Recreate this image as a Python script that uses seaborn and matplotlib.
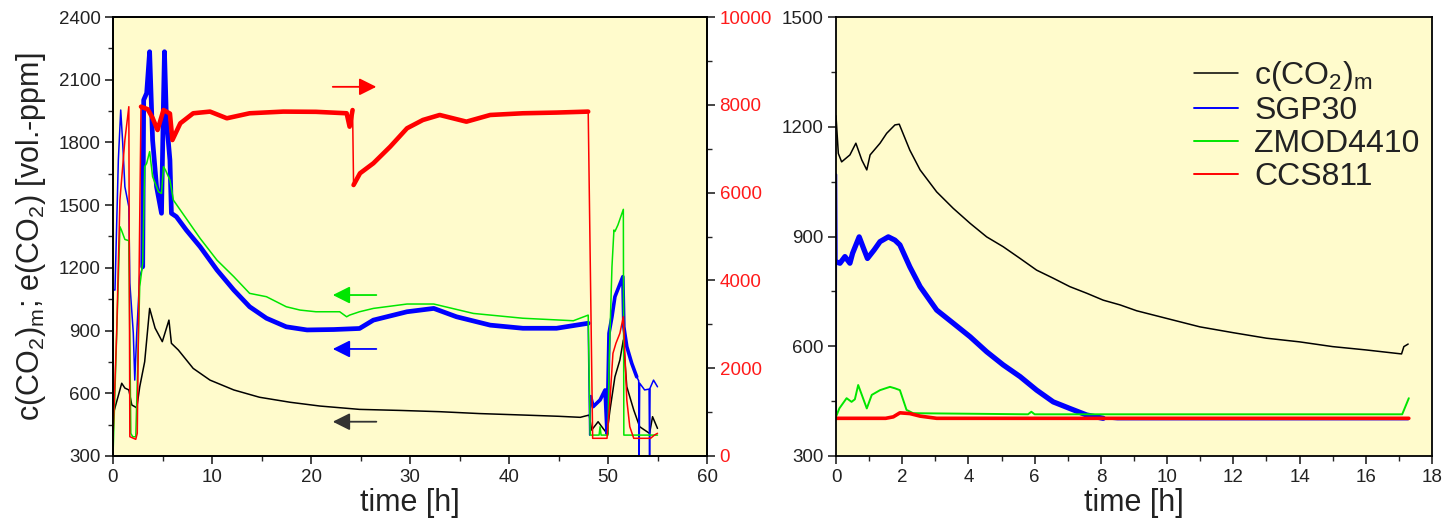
import matplotlib
matplotlib.use("Agg")
import matplotlib.pyplot as plt
import pandas as pd
import seaborn as sns
from matplotlib.ticker import MultipleLocator

# ---- left panel: 55 h run (left axis ppm, CCS811 on right axis) ----
t_meas = [0, 0.05, 0.88, 1.2, 1.6, 1.9, 2.2, 2.4, 2.7, 3.2, 3.7, 4.25, 4.98, 5.65, 5.9,
          6.6, 8.1, 9.8, 12.2, 14.8, 17.9, 20.9, 24.9, 29, 33, 37, 41.4, 45, 47.2, 48.1,
          48.35, 49.0, 49.5, 49.9, 50.2, 50.7, 51.2, 51.55, 51.9, 52.6, 53.2, 54.2, 54.5, 55.0]
co2_meas = [505, 505, 648, 625, 616, 544, 536, 530, 631, 751, 1006, 912, 847, 950, 839,
            807, 719, 663, 616, 581, 557, 539, 523, 518, 512, 503, 496, 490, 485, 496,
            424, 464, 432, 408, 520, 679, 759, 855, 631, 520, 440, 408, 488, 432]

t_sgp = [0, 0.02, 0.2, 0.54, 0.78, 0.98, 1.2, 1.6, 1.7, 2.05, 2.2, 2.4, 2.7, 3.0, 3.1,
         3.4, 3.7, 4.0, 4.4, 4.9, 5.1, 5.2, 5.4, 5.75, 5.9, 6.4, 7.4, 8.8, 10.5, 12.2,
         13.8, 15.5, 17.5, 19.6, 22.3, 24.9, 26.3, 29.7, 32.4, 34.7, 38.1, 41.4, 44.8, 48.0,
         48.15, 48.25, 48.5, 49.2, 49.7, 49.9, 50.1, 50.4, 50.7, 51.1, 51.5, 51.6, 51.9,
         52.4, 52.9, 53.1, 53.15, 53.2, 53.7, 54.15, 54.2, 54.25, 54.6, 55.0]
sgp = [300, 1094, 1094, 1716, 1955, 1797, 1588, 1492, 1127, 888, 663, 888, 1158, 1205, 2003,
       2036, 2234, 1811, 1588, 1461, 2003, 2234, 1907, 1716, 1461, 1445, 1381, 1301, 1190, 1094,
       1014, 959, 918, 903, 905, 910, 950, 990, 1006, 966, 926, 911, 911, 935,
       400, 584, 536, 568, 616, 408, 887, 966, 1062, 1110, 1158, 918, 823,
       743, 679, 660, 300, 648, 616, 620, 300, 625, 663, 631]

t_zmod = [0, 0.7, 0.85, 1.2, 1.6, 1.8, 2.0, 2.3, 2.45, 2.7, 3.0, 3.2, 3.4, 3.7, 4.0,
          4.6, 4.9, 5.1, 5.3, 5.75, 6.1, 8.8, 10.5, 12.2, 13.8, 15.5, 17.5, 18.9, 20.5, 22.9,
          23.6, 23.9, 24.9, 26.3, 29.7, 32.4, 36.4, 41.4, 46.5, 48.0, 48.2, 49.1, 49.2, 49.3,
          50.0, 50.1, 50.4, 50.6, 50.7, 51.0, 51.55, 51.6, 55.0]
zmod = [300, 1397, 1381, 1336, 1330, 408, 392, 392, 648, 1110, 1223, 1684, 1700, 1756, 1636,
        1564, 1556, 1684, 1668, 1620, 1524, 1341, 1237, 1158, 1078, 1062, 1014, 998, 990, 990,
        966, 974, 990, 1006, 1027, 1027, 982, 959, 947, 974, 400, 400, 440, 400,
        400, 727, 1205, 1381, 1374, 1405, 1480, 400, 400]

t_ccs = [0, 0.37, 0.7, 1.2, 1.6, 1.7, 2.3, 2.45, 2.83, 3.5, 4.0, 4.5, 5.1, 5.75, 6.0,
         6.8, 8.1, 9.8, 11.5, 13.8, 17.2, 20.5, 23.6, 23.9, 24.2, 24.3, 24.95, 26.3, 28.0, 29.7,
         31.3, 33.0, 35.7, 38.1, 41.4, 44.8, 48.0, 48.45, 49.9, 50.2, 50.5, 50.8, 51.2, 51.55,
         51.9, 52.2, 52.6, 54.3, 54.7, 55.0]
ccs = [400, 2802, 5832, 7198, 7957, 440, 380, 517, 7957, 7900, 7700, 7426, 7882, 7800, 7198,
       7579, 7807, 7845, 7693, 7807, 7845, 7840, 7807, 7502, 7880, 6173, 6440, 6668, 7046, 7465,
       7654, 7768, 7616, 7768, 7807, 7823, 7845, 403, 403, 1276, 2339, 2567, 2795, 3173,
       1276, 667, 403, 403, 478, 517]

# ---- right panel: 17 h run ----
t2_meas = [0, 0.07, 0.17, 0.42, 0.6, 0.78, 0.93, 1.03, 1.33, 1.53, 1.78, 1.91, 2.23, 2.54,
           3.04, 3.54, 4.05, 4.55, 5.05, 5.56, 6.06, 6.56, 7.06, 7.57, 8.07, 8.58, 9.08,
           9.99, 10.99, 12.0, 13.0, 14.0, 15.0, 16.0, 17.08, 17.15, 17.28]
co2_meas2 = [1230, 1127, 1104, 1123, 1155, 1109, 1082, 1123, 1155, 1182, 1205, 1207, 1136, 1082,
             1022, 977, 936, 899, 872, 840, 808, 786, 763, 745, 726, 713, 697,
             676, 653, 637, 622, 612, 599, 590, 579, 599, 606]

t2_sgp = [0, 0.005, 0.02, 0.12, 0.27, 0.42, 0.5, 0.7, 0.83, 0.95, 1.15, 1.33, 1.58, 1.78,
          1.93, 2.23, 2.54, 3.04, 3.54, 4.05, 4.55, 5.05, 5.56, 6.06, 6.56, 7.06, 7.57, 8.07,
          8.5, 17.28]
sgp2 = [420, 1070, 830, 827, 845, 827, 854, 899, 868, 840, 863, 886, 899, 890,
        877, 817, 763, 699, 663, 626, 585, 549, 517, 480, 448, 430, 412, 403,
        400, 400]

t2_zmod = [0, 0.1, 0.32, 0.47, 0.57, 0.67, 0.78, 0.93, 1.08, 1.33, 1.63, 1.78, 1.93, 2.13,
           2.33, 5.8, 5.9, 6.0, 10, 15, 17.1, 17.3]
zmod2 = [407, 430, 458, 448, 455, 494, 467, 430, 467, 480, 489, 485, 480, 426,
         417, 414, 421, 414, 414, 414, 414, 458]

t2_ccs = [0, 1.5, 1.73, 1.93, 2.23, 2.54, 3.04, 17.3]
ccs2 = [403, 403, 407, 418, 416, 409, 403, 403]

labels = [r"c(CO$_2$)$_\mathrm{m}$", "SGP30", "ZMOD4410", "CCS811"]
colors = ["black", "#0000FF", "#00E600", "#FF0000"]

sns.set_style("ticks")
plt.rcParams["font.family"] = ["Liberation Sans", "DejaVu Sans"]
plt.rcParams["mathtext.fontset"] = "custom"
plt.rcParams["mathtext.rm"] = "Liberation Sans"
plt.rcParams["mathtext.it"] = "Liberation Sans:italic"
plt.rcParams["mathtext.bf"] = "Liberation Sans:bold"

BG = "#FFFBCC"
TXT = "#222222"


def draw(ax, t, v, color, lw, span=None, label=None):
    df = pd.DataFrame({"t": t, "v": v})
    if span is not None:
        df = df[(df.t >= span[0]) & (df.t <= span[1])]
    sns.lineplot(data=df, x="t", y="v", ax=ax, color=color, lw=lw, sort=False,
                 estimator=None, label=label, legend=False)


def style(ax):
    for s in ax.spines.values():
        s.set_visible(True)
        s.set_linewidth(1.3)
        s.set_color("black")
    ax.tick_params(which="major", direction="out", length=6, width=1.2,
                   labelsize=13.5, labelcolor=TXT, pad=3)
    ax.tick_params(which="minor", direction="out", length=3.5, width=1.0)


fig = plt.figure(figsize=(14.45, 5.31), dpi=100)
ax1 = fig.add_axes([113 / 1445, 75 / 531, 594 / 1445, 439 / 531])
ax2 = fig.add_axes([836 / 1445, 75 / 531, 596 / 1445, 439 / 531])
ax1r = ax1.twinx()

# left panel; the noisy stretches get a wider stroke
draw(ax1, t_meas, co2_meas, colors[0], 1.1)
draw(ax1, t_sgp, sgp, colors[1], 1.1)
draw(ax1, t_sgp, sgp, colors[1], 3.4, span=(2.75, 48.0))
draw(ax1, t_sgp, sgp, colors[1], 2.6, span=(48.25, 53.05))
draw(ax1, t_sgp, sgp, colors[1], 2.6, span=(53.25, 54.1))
draw(ax1, t_zmod, zmod, colors[2], 1.1)
draw(ax1r, t_ccs, ccs, colors[3], 1.1)
draw(ax1r, t_ccs, ccs, colors[3], 3.3, span=(2.83, 24.2))
draw(ax1r, t_ccs, ccs, colors[3], 3.3, span=(24.3, 48.0))

ax1.set_facecolor(BG)
ax1.set_xlim(0, 60)
ax1.set_ylim(300, 2400)
ax1r.set_ylim(0, 10000)
ax1.xaxis.set_major_locator(MultipleLocator(10))
ax1.xaxis.set_minor_locator(MultipleLocator(5))
ax1.yaxis.set_major_locator(MultipleLocator(300))
ax1.yaxis.set_minor_locator(MultipleLocator(150))
ax1r.yaxis.set_major_locator(MultipleLocator(2000))
ax1r.yaxis.set_minor_locator(MultipleLocator(1000))
style(ax1)
style(ax1r)
ax1r.tick_params(axis="y", labelcolor="#FF1A1A")
ax1.set_xlabel("time [h]", fontsize=22, color=TXT, labelpad=2)
ax1.set_ylabel(r"c(CO$_2$)$_\mathrm{m}$; e(CO$_2$) [vol.-ppm]", fontsize=22, color=TXT, labelpad=8)
ax1r.set_ylabel("")

# arrows show which axis each series belongs to
arrows = [((22.2, 2066), (26.6, 2066), "#FF0000"),
          ((26.6, 1070), (22.2, 1070), "#00E600"),
          ((26.6, 812), (22.2, 812), "#0000FF"),
          ((26.6, 464), (22.2, 464), "#333333")]
for tail, head, c in arrows:
    ax1.annotate("", xy=head, xytext=tail,
                 arrowprops=dict(arrowstyle="-|>", color=c, lw=1.3, mutation_scale=26,
                                 shrinkA=0, shrinkB=0))

# right panel
draw(ax2, t2_meas, co2_meas2, colors[0], 1.1, label=labels[0])
draw(ax2, t2_sgp, sgp2, colors[1], 1.4, label=labels[1])
draw(ax2, t2_sgp, sgp2, colors[1], 3.8, span=(0.02, 8.1))
draw(ax2, t2_zmod, zmod2, colors[2], 1.4, label=labels[2])
draw(ax2, t2_ccs, ccs2, colors[3], 1.4, label=labels[3])
draw(ax2, t2_ccs, ccs2, colors[3], 2.6)

ax2.set_facecolor(BG)
ax2.set_xlim(0, 18)
ax2.set_ylim(300, 1500)
ax2.xaxis.set_major_locator(MultipleLocator(2))
ax2.xaxis.set_minor_locator(MultipleLocator(1))
ax2.yaxis.set_major_locator(MultipleLocator(300))
ax2.yaxis.set_minor_locator(MultipleLocator(150))
style(ax2)
ax2.set_xlabel("time [h]", fontsize=22, color=TXT, labelpad=2)
ax2.set_ylabel("")
ax2.legend(loc="upper left", bbox_to_anchor=(0.60, 0.905), frameon=False, fontsize=23,
           handlelength=1.4, handletextpad=0.5, labelspacing=0.1, borderpad=0,
           borderaxespad=0, labelcolor=TXT)

fig.savefig("out.png", dpi=100)
